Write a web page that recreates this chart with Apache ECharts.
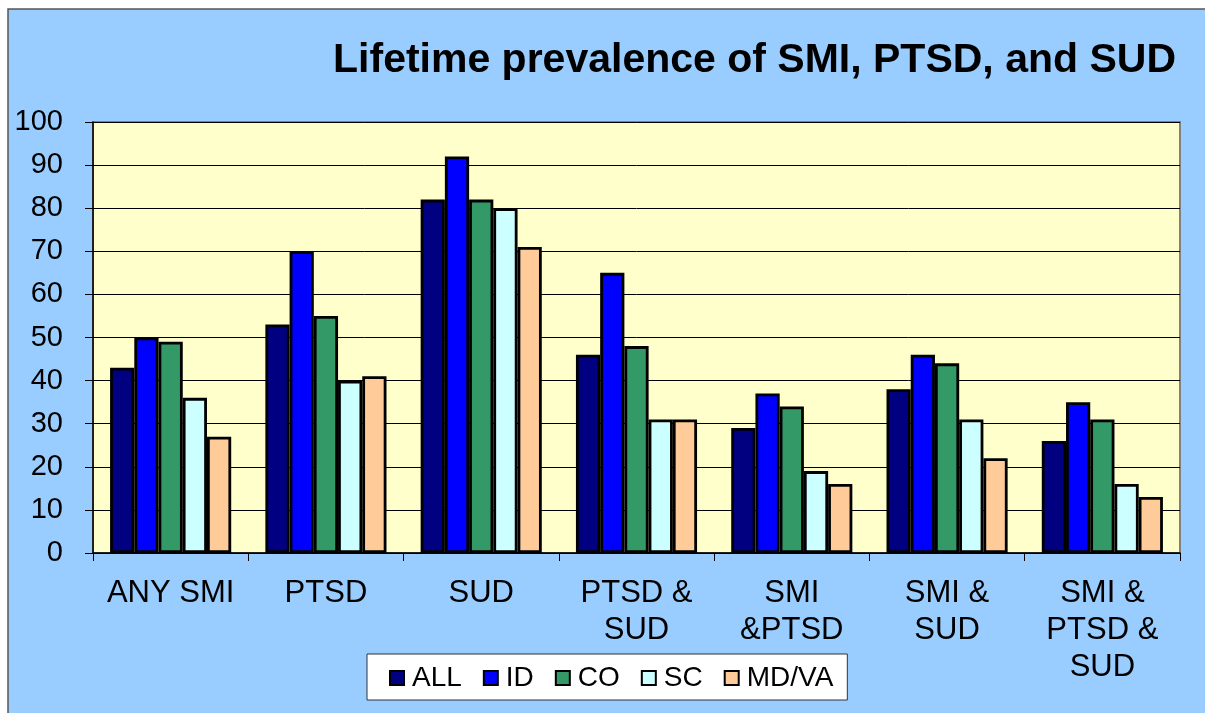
<!DOCTYPE html>
<html>
<head>
<meta charset="utf-8">
<script src="https://cdn.jsdelivr.net/npm/echarts@6/dist/echarts.min.js"></script>
<style>
  html, body { margin: 0; padding: 0; background: #fff; }
  #main { width: 1205px; height: 713px; }
</style>
</head>
<body>
<div id="main"></div>
<script>
// categories and values
var categories = ['ANY SMI', 'PTSD', 'SUD', 'PTSD &\nSUD', 'SMI\n&PTSD', 'SMI &\nSUD', 'SMI &\nPTSD &\nSUD'];
var seriesNames = ['ALL', 'ID', 'CO', 'SC', 'MD/VA'];
var allData  = [43, 53, 82, 46, 29, 38, 26];
var idData   = [50, 70, 92, 65, 37, 46, 35];
var coData   = [49, 55, 82, 48, 34, 44, 31];
var scData   = [36, 40, 80, 31, 19, 31, 16];
var mdvaData = [27, 41, 71, 31, 16, 22, 13];
var colors = ['#000080', '#0000FF', '#339966', '#CCFFFF', '#FFCC99'];
var yTicks = [0, 10, 20, 30, 40, 50, 60, 70, 80, 90, 100];

var chart = echarts.init(document.getElementById('main'));
var font = 'Liberation Sans, Arial, sans-serif';

var values = [allData, idData, coData, scData, mdvaData];
var series = [];
for (var i = 0; i < seriesNames.length; i++) {
    series.push({
        name: seriesNames[i],
        type: 'bar',
        data: values[i],
        barGap: '0%',
        barCategoryGap: '22%',
        itemStyle: { color: colors[i], borderColor: '#000', borderWidth: 2.8 }
    });
}

chart.setOption({
    backgroundColor: '#ffffff',
    animation: false,
    graphic: [{
        type: 'rect',
        z: -10,
        silent: true,
        shape: { x: 8, y: 9, width: 1210, height: 720 },
        style: { fill: '#99CCFF', stroke: '#555', lineWidth: 1.5 }
    }],
    title: {
        text: 'Lifetime prevalence of SMI, PTSD, and SUD',
        right: 29,
        top: 40,
        padding: 0,
        textStyle: { fontFamily: font, fontWeight: 'bold', fontSize: 41, color: '#000' }
    },
    legend: {
        data: seriesNames,
        icon: 'rect',
        left: 367,
        top: 654,
        width: 488,
        height: 49,
        padding: [10, 14, 8, 22],
        itemGap: 21,
        itemWidth: 14,
        itemHeight: 14,
        backgroundColor: '#ffffff',
        borderColor: '#333',
        borderWidth: 1,
        itemStyle: { borderColor: '#000', borderWidth: 2 },
        textStyle: { fontFamily: font, fontSize: 28, color: '#000', padding: [0, 0, 0, 3] }
    },
    grid: {
        left: 93,
        top: 122,
        width: 1087,
        height: 431,
        show: true,
        backgroundColor: '#FFFFCC',
        borderColor: '#808080',
        borderWidth: 2
    },
    xAxis: {
        type: 'category',
        data: categories,
        axisLine: { lineStyle: { color: '#000', width: 1.5 } },
        axisTick: { show: true, length: 8, lineStyle: { color: '#000' } },
        axisLabel: {
            fontFamily: font, fontSize: 31, color: '#000',
            margin: 22, lineHeight: 37, interval: 0, align: 'center'
        }
    },
    yAxis: {
        type: 'value',
        min: yTicks[0],
        max: yTicks[yTicks.length - 1],
        interval: 10,
        axisLine: { show: true, lineStyle: { color: '#000', width: 1.5 } },
        axisTick: { show: true, length: 8, lineStyle: { color: '#000' } },
        axisLabel: { fontFamily: font, fontSize: 29, color: '#000', margin: 30 },
        splitLine: { lineStyle: { color: '#000', width: 1 } }
    },
    series: series
});
</script>
</body>
</html>
